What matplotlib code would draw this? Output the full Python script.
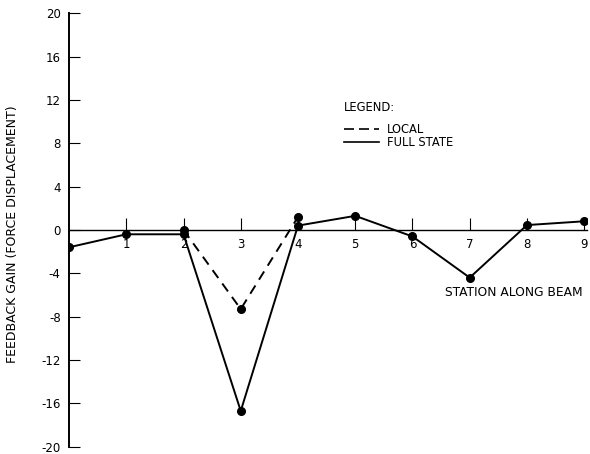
import matplotlib.pyplot as plt
from matplotlib.ticker import FixedLocator, FuncFormatter

# feedback gain at each station along the beam
stations_full = [0, 1, 2, 3, 4, 5, 6, 7, 8, 9]
gain_full = [-1.6, -0.4, -0.4, -16.7, 0.4, 1.3, -0.6, -4.4, 0.45, 0.8]
stations_local = [2, 3, 4]
gain_local = [0.0, -7.3, 1.2]

yticks = list(range(-20, 21, 4))
xticks = [1, 2, 3, 4, 5, 6, 7, 8, 9]

plt.rcParams['font.family'] = ['DejaVu Sans']

fig = plt.figure(figsize=(5.9, 4.54), dpi=100)
ax = fig.add_axes([0.117, 0.016, 0.878, 0.955])

ax.plot(stations_full, gain_full, color='black', linewidth=1.4,
        marker='o', markersize=5.5, label='FULL STATE')
ax.plot(stations_local, gain_local, color='black', linewidth=1.4,
        linestyle=(0, (5, 3.5)), marker='o', markersize=5.5, label='LOCAL')

ax.set_xlim(0, 9.05)
ax.set_ylim(-20, 20)

for s in ['top', 'right']:
    ax.spines[s].set_visible(False)
ax.spines['bottom'].set_position(('data', 0))
ax.spines['left'].set_linewidth(1.4)
ax.spines['bottom'].set_linewidth(1.0)

ax.xaxis.set_major_locator(FixedLocator(xticks))
ax.yaxis.set_major_locator(FixedLocator(yticks))
ax.yaxis.set_major_formatter(FuncFormatter(lambda v, p: f"{int(v)}".replace('\u2212', '-')))
ax.tick_params(axis='x', direction='in', length=9, width=0.8, pad=6, labelsize=8.5)
ax.tick_params(axis='y', direction='in', length=8, width=0.8, pad=6, labelsize=8.5)

fig.text(0.022, 0.485, "FEEDBACK GAIN (FORCE DISPLACEMENT)", rotation=90,
         ha='center', va='center', fontsize=9)
ax.text(8.98, -5.8, "STATION ALONG BEAM", ha='right', va='center', fontsize=8.8)

# legend block
ax.text(4.8, 11.3, "LEGEND:", ha='left', va='center', fontsize=8.3)
ax.plot([4.8, 5.42], [9.3, 9.3], color='black', linewidth=1.2, linestyle=(0, (6, 3)))
ax.text(5.55, 9.3, "LOCAL", ha='left', va='center', fontsize=8.3)
ax.plot([4.8, 5.42], [8.1, 8.1], color='black', linewidth=1.2)
ax.text(5.55, 8.1, "FULL STATE", ha='left', va='center', fontsize=8.3)

fig.savefig('out.png', dpi=100)
